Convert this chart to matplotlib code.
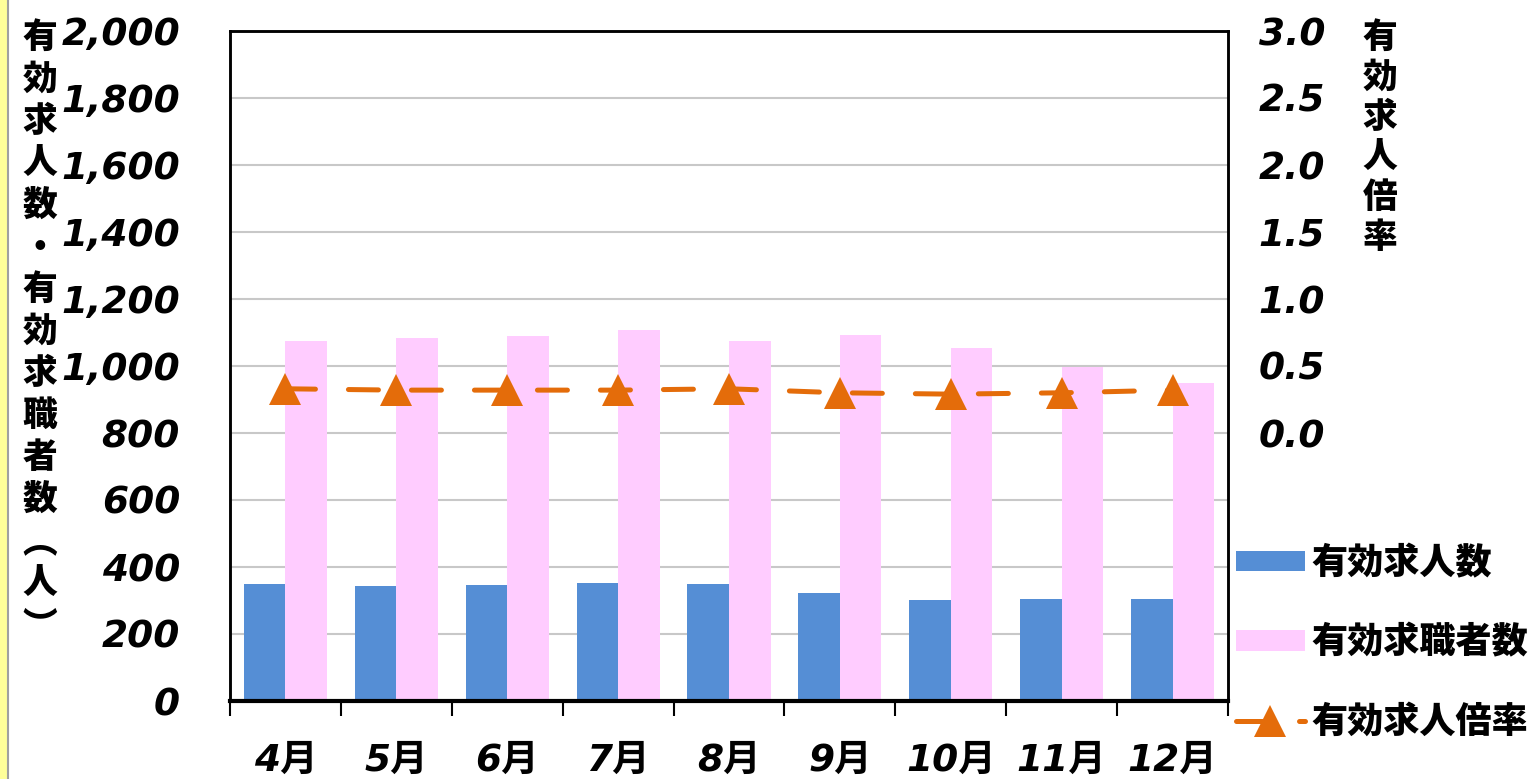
import numpy as np
import matplotlib
matplotlib.use("Agg")
import matplotlib.pyplot as plt
from matplotlib.patches import Rectangle, Patch
from matplotlib.lines import Line2D

# data
months = ["4月", "5月", "6月", "7月", "8月", "9月", "10月", "11月", "12月"]
job_offers = [349, 343, 346, 351, 349, 322, 301, 304, 304]        # 有効求人数
job_seekers = [1075, 1084, 1090, 1107, 1075, 1093, 1054, 998, 948]  # 有効求職者数
ratio = [0.33, 0.32, 0.32, 0.32, 0.33, 0.30, 0.29, 0.30, 0.32]     # 有効求人倍率

left_ticks = [0, 200, 400, 600, 800, 1000, 1200, 1400, 1600, 1800, 2000]
right_ticks = [0.0, 0.5, 1.0, 1.5, 2.0, 2.5, 3.0]

BLUE = "#558ED5"
PINK = "#FFCCFF"
ORANGE = "#E46C0A"

cjk = ["Noto Sans CJK JP", "DejaVu Sans"]
num = ["DejaVu Sans", "Noto Sans CJK JP"]

fig = plt.figure(figsize=(15.39, 7.79), dpi=100)
fig.patch.set_facecolor("white")
# yellow strip on the left edge
fig.patches.append(Rectangle((0, 0), 7 / 1539, 1, transform=fig.transFigure,
                             facecolor="#FFFF99", edgecolor="none"))
fig.lines.append(Line2D([8 / 1539, 8 / 1539], [0, 1], transform=fig.transFigure,
                        color="#A0A0A0", lw=1.5))

ax = fig.add_axes([230 / 1539, 1 - 701 / 779, 998 / 1539, 670 / 779])
x = np.arange(len(months))
w = 0.375
ax.bar(x - w / 2, job_offers, w, color=BLUE, zorder=2)
ax.bar(x + w / 2, job_seekers, w, color=PINK, zorder=2)

ax.set_xlim(-0.5, len(months) - 0.5)
ax.set_ylim(0, 2000)
ax.set_yticks(left_ticks)
ax.set_yticklabels([f"{v:,}" for v in left_ticks], fontsize=27,
                   fontweight="bold", fontstyle="italic", family=num)
ax.tick_params(axis="y", length=0, pad=36)
ax.yaxis.grid(True, color="#C8C8C8", lw=1.5, zorder=0)

ax.set_xticks(x)
ax.set_xticklabels(months, fontsize=27, fontweight="bold", fontstyle="italic", family=num)
ax.set_xticks(np.arange(-0.5, len(months), 1), minor=True)
ax.tick_params(axis="x", which="major", length=0, pad=30)
ax.tick_params(axis="x", which="minor", length=11, width=1.5, color="black", direction="out")

for s in ax.spines.values():
    s.set_color("black")
    s.set_linewidth(1.8)
ax.spines["bottom"].set_linewidth(3)

ax2 = ax.twinx()
ax2.set_ylim(-2, 3)
ax2.set_yticks(right_ticks)
ax2.set_yticklabels([f"{v:.1f}" for v in right_ticks], fontsize=27,
                    fontweight="bold", fontstyle="italic", family=num, ha="right")
ax2.tick_params(axis="y", length=0, pad=70)
line, = ax2.plot(x, ratio, color=ORANGE, lw=3.6, marker="^", markersize=23,
                 markeredgewidth=0, solid_capstyle="round", dash_capstyle="round", zorder=3)
line.set_dashes([6, 6.6])
for s in ax2.spines.values():
    s.set_color("black")
    s.set_linewidth(1.8)

# vertical axis titles
left_title = "有効求人数・有効求職者数︵人︶"
fig.text(40 / 1539, 1 - 20 / 779, "\n".join(left_title), ha="center", va="top",
         fontsize=25, fontweight="heavy", family=cjk, linespacing=1.25)
right_title = "有効求人倍率"
fig.text(1380 / 1539, 1 - 20 / 779, "\n".join(right_title), ha="center", va="top",
         fontsize=25, fontweight="heavy", family=cjk, linespacing=1.18)

handles = [Patch(facecolor=BLUE, edgecolor="none"),
           Patch(facecolor=PINK, edgecolor="none"),
           Line2D([], [], color=ORANGE, lw=3.6, marker="^", markersize=23,
                  markeredgewidth=0, dashes=[6, 6.6], dash_capstyle="round")]
labels = ["有効求人数", "有効求職者数", "有効求人倍率"]
fig.legend(handles, labels, loc="upper left", bbox_to_anchor=(1236 / 1539, 1 - 545 / 779),
           frameon=False, prop={"family": cjk, "weight": "heavy", "size": 26},
           handlelength=1.9, handleheight=0.5, handletextpad=0.2, labelspacing=1.2,
           borderpad=0, borderaxespad=0)

fig.savefig("out.png", dpi=100)
